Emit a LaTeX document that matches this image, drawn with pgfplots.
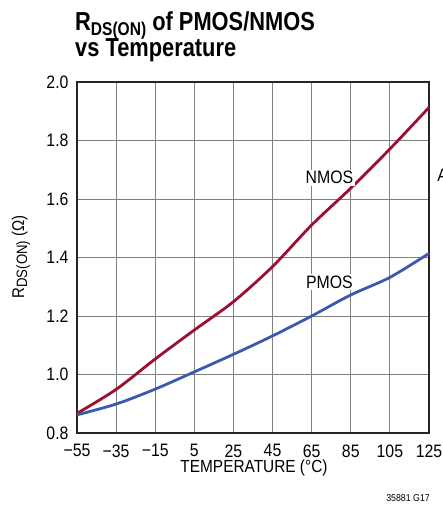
\documentclass[border=0pt]{standalone}
\usepackage{fontspec}
\setmainfont{Liberation Sans}[FakeStretch=0.88]
\newfontfamily\titlefont{Liberation Sans}[FakeStretch=0.84]
\usepackage{pgfplots}
\pgfplotsset{compat=1.18}
\definecolor{nmos}{RGB}{155,16,48}
\definecolor{pmos}{RGB}{58,90,175}
\begin{document}
\begin{tikzpicture}
\useasboundingbox (0pt,0pt) rectangle (443pt,506pt);
\begin{axis}[at={(77pt,73pt)}, anchor=south west, scale only axis,
  width=352pt, height=351pt,
  xmin=-55, xmax=125, ymin=0.8, ymax=2.0,
  xtick={-55,-35,-15,5,25,45,65,85,105,125},
  xticklabels={−55,−35,−15,5,25,45,65,85,105,125},
  ytick={0.8,1.0,1.2,1.4,1.6,1.8,2.0},
  yticklabels={0.8,1.0,1.2,1.4,1.6,1.8,2.0},
  grid=major, major grid style={black!50, line width=0.9pt},
  axis line style={black!85, line width=1.3pt},
  major tick length=0pt,
  tick label style={font=\fontsize{18}{20}\selectfont},
  yticklabel style={anchor=east, xshift=-5pt},
  xticklabel style={anchor=north, yshift=-8pt},
  clip=false,
]
\addplot[nmos, line width=2.8pt, smooth] coordinates {
(-55,0.867) (-35,0.949) (-15,1.053) (5,1.152) (25,1.249) (45,1.369)
(65,1.511) (85,1.637) (105,1.771) (125,1.913)};
\addplot[pmos, line width=2.8pt, smooth] coordinates {
(-55,0.862) (-35,0.899) (-15,0.950) (5,1.009) (25,1.069) (45,1.132)
(65,1.200) (85,1.272) (105,1.332) (125,1.414)};
\node[fill=white, inner sep=1.5pt, font=\fontsize{18}{20}\selectfont] at (axis cs:74.1,1.673) {NMOS};
\node[fill=white, inner sep=1.5pt, font=\fontsize{18}{20}\selectfont] at (axis cs:74.1,1.315) {PMOS};
\node[anchor=west, inner sep=0pt, font=\fontsize{18}{20}\selectfont] at (axis cs:129.2,1.682) {A};
\end{axis}
\node[anchor=base west, inner sep=0pt, font=\titlefont\bfseries\fontsize{26}{28}\selectfont] at (75pt,475.3pt) {R\raisebox{-4.5pt}{\fontsize{18.5}{18}\selectfont DS(ON)} of PMOS/NMOS};
\node[anchor=base west, inner sep=0pt, font=\titlefont\bfseries\fontsize{26}{28}\selectfont] at (75pt,449.3pt) {vs Temperature};
\node[rotate=90, anchor=base, inner sep=0pt, font=\fontsize{17}{18}\selectfont] at (24pt,249pt) {R\raisebox{-3pt}{\fontsize{15}{16}\selectfont DS(ON)} (Ω)};
\node[anchor=base, inner sep=0pt, font=\fontsize{17.5}{18}\selectfont] at (254pt,33.3pt) {TEMPERATURE (°C)};
\node[anchor=base east, inner sep=0pt, font=\fontsize{10}{12}\selectfont] at (430pt,4.5pt) {35881 G17};
\end{tikzpicture}
\end{document}
